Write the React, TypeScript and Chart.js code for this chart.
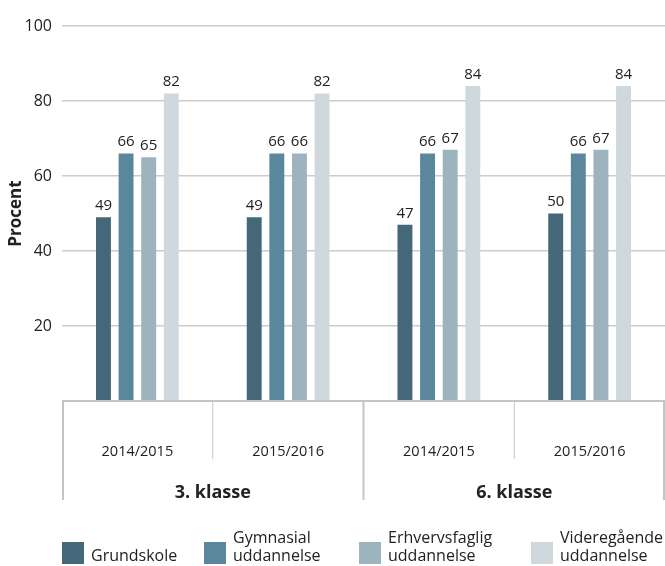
import React, { useEffect, useRef } from "react";
import { Chart, registerables } from "chart.js";

Chart.register(...registerables);

const categories = ["2014/2015", "2015/2016", "2014/2015", "2015/2016"];
const groups = ["3. klasse", "6. klasse"];
const groupSpan = 2;
const seriesNames = [["Grundskole"], ["Gymnasial", "uddannelse"], ["Erhvervsfaglig", "uddannelse"], ["Videregående", "uddannelse"]];
const grundskole = [49, 49, 47, 50];
const gymnasial = [66, 66, 66, 66];
const erhvervsfaglig = [65, 66, 67, 67];
const videregaaende = [82, 82, 84, 84];
const yTicks = [0, 20, 40, 60, 80, 100];

const colors = ["#44677a", "#5b879d", "#9db3bd", "#cfd8dc"];
const legendX = [62, 204, 359, 531];
const FONT = "'Open Sans', sans-serif";
const TEXT = "#222222";

export default function App() {
  const ref = useRef<HTMLCanvasElement | null>(null);
  useEffect(() => {
    const canvas = ref.current!;
    const series = [grundskole, gymnasial, erhvervsfaglig, videregaaende];

    const customPlugin = {
      id: "custom",
      afterDatasetsDraw(chart: any) {
        const ctx = chart.ctx;
        ctx.save();
        ctx.font = `15px ${FONT}`;
        ctx.fillStyle = TEXT;
        ctx.textAlign = "center";
        ctx.textBaseline = "bottom";
        chart.data.datasets.forEach((ds: any, i: number) => {
          const meta = chart.getDatasetMeta(i);
          meta.data.forEach((bar: any, j: number) => {
            ctx.fillText(String(ds.data[j]), bar.x, bar.y - 4);
          });
        });
        ctx.restore();
      },
      afterDraw(chart: any) {
        const ctx = chart.ctx;
        const xs = chart.scales.x;
        const area = chart.chartArea;
        const catW = (area.right - area.left) / categories.length;
        const base = area.bottom;
        ctx.save();
        ctx.strokeStyle = "#c4c4c4";
        ctx.lineWidth = 2;
        ctx.beginPath();
        ctx.moveTo(area.left, base);
        ctx.lineTo(area.right, base);
        ctx.stroke();
        for (let k = 0; k <= categories.length; k++) {
          const x = Math.min(area.left + k * catW + (k === 0 ? 1 : 0), area.right - 1);
          const isGroup = k % groupSpan === 0;
          ctx.lineWidth = isGroup ? 2 : 1;
          ctx.beginPath();
          ctx.moveTo(x, base);
          ctx.lineTo(x, base + (isGroup ? 99 : 58));
          ctx.stroke();
        }
        ctx.fillStyle = TEXT;
        ctx.textAlign = "center";
        ctx.textBaseline = "middle";
        ctx.font = `14.5px ${FONT}`;
        categories.forEach((c, i) => {
          ctx.fillText(c, xs.getPixelForValue(i), base + 51);
        });
        ctx.font = `bold 18px ${FONT}`;
        groups.forEach((g, gi) => {
          const x0 = xs.getPixelForValue(gi * groupSpan);
          const x1 = xs.getPixelForValue(gi * groupSpan + groupSpan - 1);
          ctx.fillText(g, (x0 + x1) / 2, base + 92);
        });
        ctx.font = `16px ${FONT}`;
        ctx.textAlign = "left";
        ctx.textBaseline = "alphabetic";
        seriesNames.forEach((lines, i) => {
          const bx = legendX[i];
          ctx.fillStyle = colors[i];
          ctx.fillRect(bx, 542, 22, 22);
          ctx.fillStyle = TEXT;
          const n = lines.length;
          lines.forEach((l, li) => {
            ctx.fillText(l, bx + 29, 561 - (n - 1 - li) * 18);
          });
        });
        ctx.restore();
      },
    };

    const chart = new Chart(canvas, {
      type: "bar",
      data: {
        labels: categories,
        datasets: series.map((d, i) => ({
          label: seriesNames[i].join(" "),
          data: d,
          backgroundColor: colors[i],
          categoryPercentage: 0.6,
          barPercentage: 0.66,
        })),
      },
      options: {
        responsive: false,
        animation: false,
        layout: { padding: { top: 26, right: 0, left: 0, bottom: 0 } },
        plugins: {
          legend: { display: false },
          tooltip: { enabled: false },
        },
        scales: {
          x: {
            ticks: { display: false },
            grid: { display: false, drawTicks: false },
            border: { display: false },
            afterFit(scale: any) {
              scale.height = 165;
            },
          },
          y: {
            min: 0,
            max: 100,
            afterBuildTicks(scale: any) {
              scale.ticks = yTicks.map((v) => ({ value: v }));
            },
            ticks: {
              callback: (v: any) => (v === 0 ? "" : String(v)),
              font: { family: FONT, size: 16 },
              color: TEXT,
              padding: 10,
            },
            grid: {
              color: (c: any) => (c.tick && c.tick.value === 0 ? "rgba(0,0,0,0)" : "#cccccc"),
              lineWidth: 1.5,
              drawTicks: false,
            },
            border: { display: false },
            title: {
              display: true,
              text: "Procent",
              font: { family: FONT, size: 17, weight: "bold" },
              color: TEXT,
              padding: { top: 6, bottom: 0 },
            },
            afterFit(scale: any) {
              scale.width = 62;
            },
          },
        },
      },
      plugins: [customPlugin],
    } as any);
    return () => chart.destroy();
  }, []);

  return (
    <div style={{ position: "fixed", left: 0, top: 0, width: 665, height: 566, background: "#fff" }}>
      <canvas ref={ref} width={665} height={566} />
    </div>
  );
}
